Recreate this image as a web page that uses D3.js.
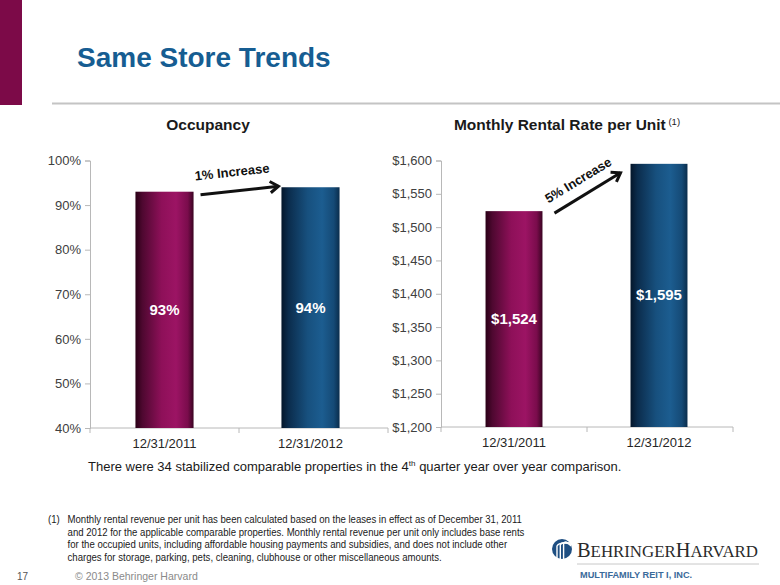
<!DOCTYPE html>
<html><head><meta charset="utf-8">
<script src="https://cdn.jsdelivr.net/npm/d3@7"></script>
<style>
html,body{margin:0;padding:0;background:#fff;}
svg{display:block;font-family:"Liberation Sans",Arial,sans-serif;}
</style></head>
<body>
<svg id="c" width="780" height="585"></svg>
<script>
const categories = ["12/31/2011", "12/31/2012"];
const occupancyValues = [93, 94];
const occupancyLabels = ["93%", "94%"];
const occupancyTicks = [40, 50, 60, 70, 80, 90, 100];
const rentValues = [1524, 1595];
const rentLabels = ["$1,524", "$1,595"];
const rentTicks = [1200, 1250, 1300, 1350, 1400, 1450, 1500, 1550, 1600];
const footnoteLines = [
  "Monthly rental revenue per unit has been calculated based on the leases in effect as of December 31, 2011",
  "and 2012 for the applicable comparable properties. Monthly rental revenue per unit only includes base rents",
  "for the occupied units, including affordable housing payments and subsidies, and does not include other",
  "charges for storage, parking, pets, cleaning, clubhouse or other miscellaneous amounts."
];

const svg = d3.select("#c");
const defs = svg.append("defs");
function grad(id, stops){
  const g = defs.append("linearGradient").attr("id", id).attr("x1","0").attr("x2","1").attr("y1","0").attr("y2","0");
  stops.forEach(s => g.append("stop").attr("offset", s[0]).attr("stop-color", s[1]));
}
grad("gMag", [[0,"#2a0016"],[0.12,"#4e0830"],[0.45,"#8e1059"],[0.7,"#9c1464"],[0.9,"#7a0c4c"],[1,"#3a0422"]]);
grad("gBlue", [[0,"#04162a"],[0.12,"#0b2c4c"],[0.45,"#17507e"],[0.7,"#1c5d90"],[0.9,"#154a76"],[1,"#0a2d4c"]]);
const fills = ["url(#gMag)", "url(#gBlue)"];

// sidebar + title
svg.append("rect").attr("x",0).attr("y",0).attr("width",22).attr("height",105).attr("fill","#7c0a48");
svg.append("line").attr("x1",52).attr("x2",780).attr("y1",103.5).attr("y2",103.5).attr("stroke","#c4c4c4").attr("stroke-width",2);
svg.append("text").attr("x",77).attr("y",67).attr("font-size",28).attr("font-weight","bold").attr("fill","#165d92").text("Same Store Trends");

function chart(opt){
  const x = d3.scaleBand().domain(categories).range([opt.x0, opt.x1]).paddingInner(0).paddingOuter(0);
  const y = d3.scaleLinear().domain(opt.domain).range([opt.yb, opt.yt]);
  const g = svg.append("g");
  // title
  const t = g.append("text").attr("x", opt.titleX).attr("y", 130).attr("text-anchor","middle")
    .attr("font-size",15.5).attr("font-weight","bold").attr("fill","#1a1a1a");
  t.append("tspan").text(opt.title);
  if (opt.sup) t.append("tspan").attr("font-size",9.5).attr("font-weight","normal").attr("dy",-5).text(" " + opt.sup);
  // y axis
  const ya = d3.axisLeft(y).tickValues(opt.ticks).tickSize(5).tickPadding(4).tickFormat(opt.fmt);
  const yg = g.append("g").attr("transform",`translate(${opt.x0},0)`).call(ya);
  yg.select(".domain").attr("stroke","#b8b8b8");
  yg.selectAll(".tick line").attr("stroke","#b8b8b8");
  yg.selectAll(".tick text").attr("font-size",13).attr("fill","#404040").attr("font-family","Liberation Sans, Arial, sans-serif");
  // x axis
  const xg = g.append("g").attr("transform",`translate(0,${opt.yb})`);
  xg.append("line").attr("x1",opt.x0).attr("x2",opt.x1).attr("stroke","#b8b8b8");
  const bounds = [opt.x0, x(categories[1]), opt.x1];
  xg.selectAll("line.tk").data(bounds).enter().append("line").attr("class","tk")
    .attr("x1",d=>d).attr("x2",d=>d).attr("y1",0).attr("y2",5).attr("stroke","#b8b8b8");
  xg.selectAll("text").data(categories).enter().append("text")
    .attr("x", d => x(d) + x.bandwidth()/2 + (d===categories[1]?opt.shift2:0)).attr("y",20).attr("text-anchor","middle")
    .attr("font-size",13).attr("fill","#262626").text(d=>d);
  // bars
  const bw = x.bandwidth()*0.39;
  const cx = (d,i) => x(d) + x.bandwidth()/2 + (i===1?opt.shift2:0);
  g.selectAll("rect.bar").data(categories).enter().append("rect").attr("class","bar")
    .attr("x",(d,i)=>cx(d,i)-bw/2).attr("width",bw)
    .attr("y",(d,i)=>y(opt.values[i])).attr("height",(d,i)=>opt.yb - y(opt.values[i]))
    .attr("fill",(d,i)=>fills[i]);
  g.selectAll("text.lbl").data(categories).enter().append("text").attr("class","lbl")
    .attr("x",(d,i)=>cx(d,i)).attr("y",(d,i)=>(y(opt.values[i])+opt.yb)/2 + 5)
    .attr("text-anchor","middle").attr("font-size",15).attr("font-weight","bold").attr("fill","#ffffff")
    .text((d,i)=>opt.labels[i]);
  // arrow
  const sx = cx(categories[0],0) + bw/2 + opt.a[0], sy = y(opt.values[0]) + opt.a[1];
  const ex = cx(categories[1],1) - bw/2 + opt.a[2], ey = y(opt.values[1]) + opt.a[3];
  const ang = Math.atan2(ey - sy, ex - sx);
  const hl = 10, ha = 0.6;
  g.append("line").attr("x1",sx).attr("y1",sy).attr("x2",ex).attr("y2",ey).attr("stroke","#111").attr("stroke-width",3);
  const p = d3.path();
  p.moveTo(ex - hl*Math.cos(ang-ha), ey - hl*Math.sin(ang-ha));
  p.lineTo(ex, ey);
  p.lineTo(ex - hl*Math.cos(ang+ha), ey - hl*Math.sin(ang+ha));
  g.append("path").attr("d",p.toString()).attr("fill","none").attr("stroke","#111").attr("stroke-width",3).attr("stroke-linejoin","miter");
  const mx = (sx+ex)/2 + opt.tOff[0], my = (sy+ey)/2 + opt.tOff[1];
  g.append("text").attr("transform",`translate(${mx},${my}) rotate(${ang*180/Math.PI})`)
    .attr("text-anchor","middle").attr("font-size",13).attr("font-weight","bold").attr("fill","#111").text(opt.arrowText);
}

chart({x0:90, x1:388, yb:428, yt:160.5, domain:[40,100], ticks:occupancyTicks, fmt:d=>d+"%",
  values:occupancyValues, labels:occupancyLabels, title:"Occupancy", titleX:208, shift2:-3,
  a:[7,3,-3,-1], tOff:[-7,-14], arrowText:"1% Increase"});
chart({x0:441, x1:733, yb:427, yt:160.5, domain:[1200,1600], ticks:rentTicks, fmt:d=>"$"+d3.format(",")(d),
  values:rentValues, labels:rentLabels, title:"Monthly Rental Rate per Unit", sup:"(1)", titleX:567, shift2:-1,
  a:[12,2,-10,9], tOff:[-7,-9], arrowText:"5% Increase"});

// comparison sentence
const cmp = svg.append("text").attr("x",88).attr("y",471).attr("font-size",13).attr("fill","#1a1a1a");
cmp.append("tspan").text("There were 34 stabilized comparable properties in the 4");
cmp.append("tspan").attr("font-size",8).attr("dy",-5).text("th");
cmp.append("tspan").attr("dy",5).text(" quarter year over year comparison.");

// footnote (condensed)
const fn = svg.append("g").attr("transform","translate(48,0) scale(0.85,1)").attr("font-size",11.3).attr("fill","#1a1a1a");
fn.append("text").attr("x",0).attr("y",523).text("(1)");
fn.selectAll("text.fl").data(footnoteLines).enter().append("text").attr("class","fl")
  .attr("x",23).attr("y",(d,i)=>523 + i*12.6).text(d=>d);

// page footer
svg.append("text").attr("x",17).attr("y",580).attr("font-size",10).attr("fill","#555").text("17");
svg.append("text").attr("x",75).attr("y",580).attr("font-size",10.5).attr("fill","#8a8a8a").text("© 2013 Behringer Harvard");

// logo
const lg = svg.append("g");
lg.append("circle").attr("cx",562).attr("cy",549).attr("r",10).attr("fill","#1f4f82");
[0,1,2].forEach(i=>{
  lg.append("path").attr("d",`M${557+i*3.3},560 L${557+i*3.3},${546-i*1.2} Q${559+i*3.3},${542-i*1.2} ${571},${543+i*1.5}`)
    .attr("fill","none").attr("stroke","#fff").attr("stroke-width",1.4);
});
const bh = lg.append("text").attr("x",577).attr("y",557).attr("font-family","'Liberation Serif','DejaVu Serif',serif").attr("fill","#2a2a2a").attr("font-size",20)
  .attr("textLength",181).attr("lengthAdjust","spacingAndGlyphs");
bh.append("tspan").text("B");
bh.append("tspan").attr("font-size",16.5).text("EHRINGER");
bh.append("tspan").text("H");
bh.append("tspan").attr("font-size",16.5).text("ARVARD");
lg.append("line").attr("x1",577).attr("x2",759).attr("y1",564).attr("y2",564).attr("stroke","#c8c8c8").attr("stroke-width",1);
lg.append("text").attr("x",580).attr("y",578).attr("font-size",9.2).attr("font-weight","bold").attr("fill","#3a6a9a").text("MULTIFAMILY REIT I, INC.");
</script>
</body></html>
